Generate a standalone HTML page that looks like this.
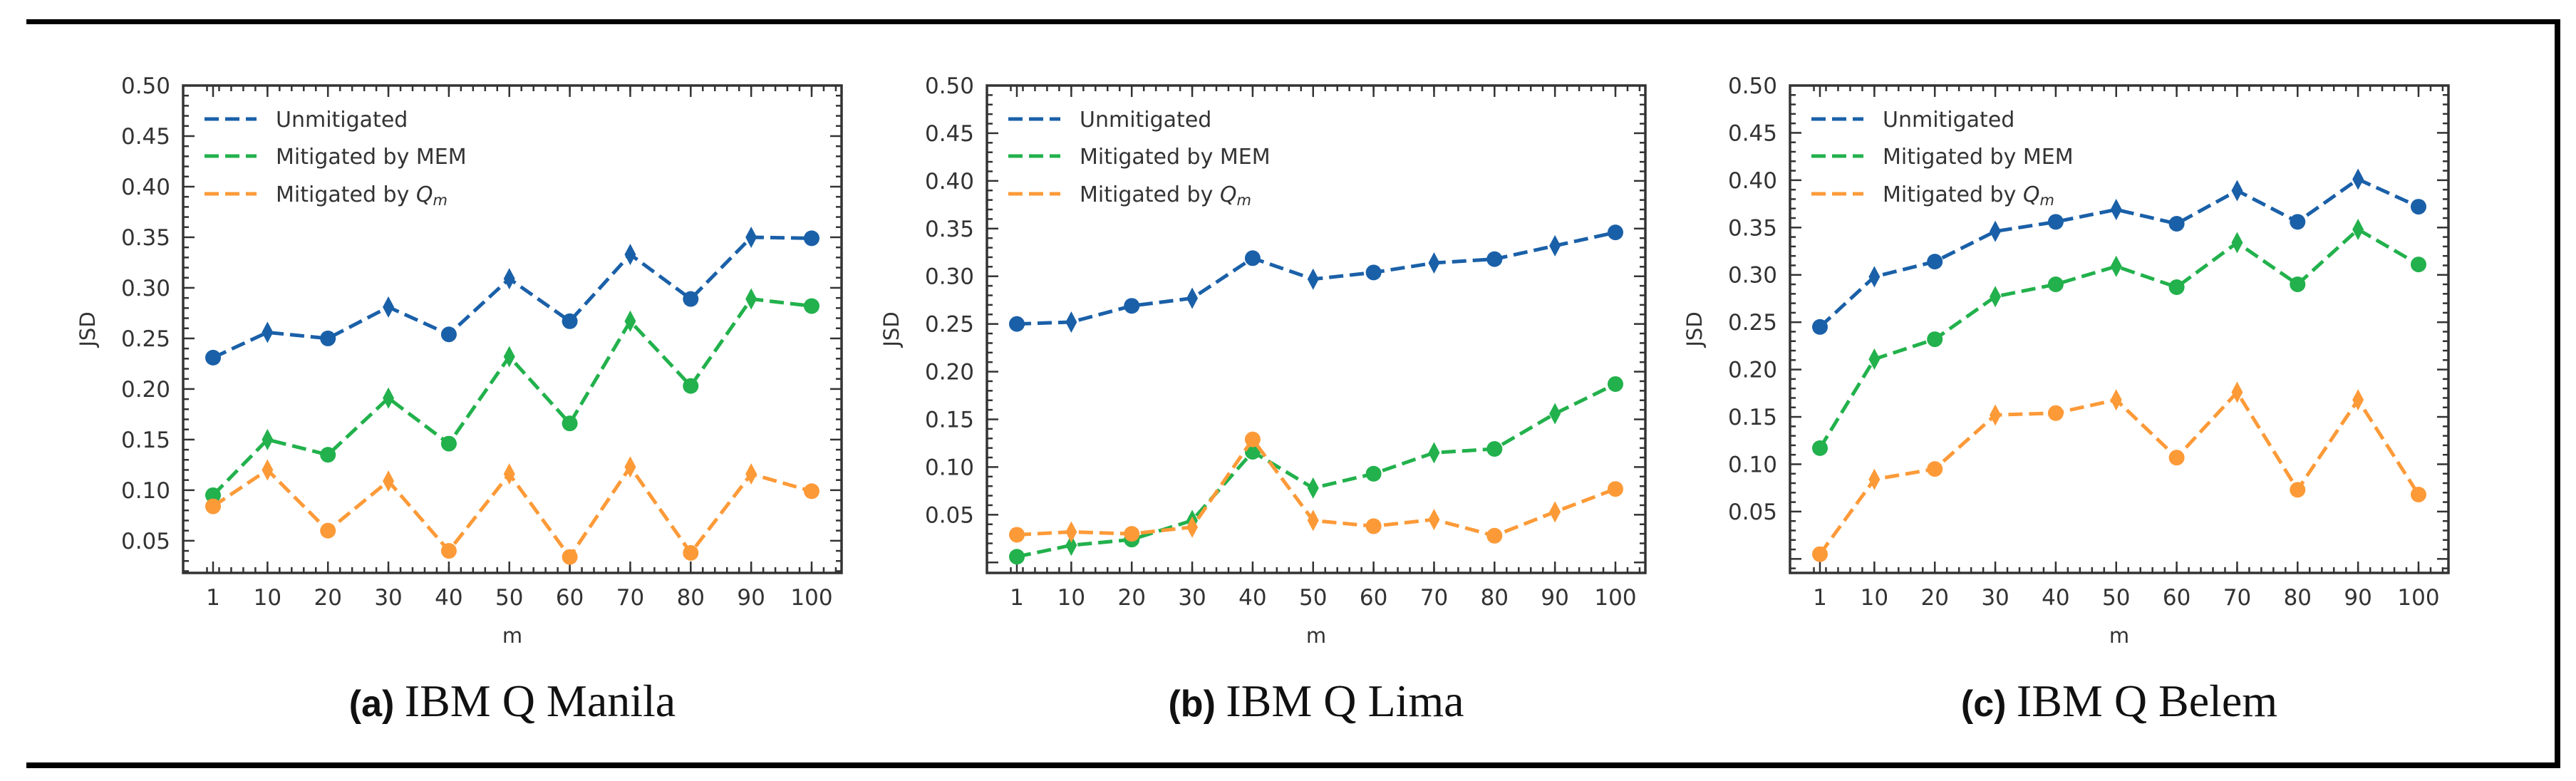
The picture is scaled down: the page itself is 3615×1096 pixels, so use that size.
<!DOCTYPE html>
<html><head><meta charset="utf-8">
<style>
html,body{margin:0;padding:0;background:#fff;}
#wrap{position:relative;width:3615px;height:1096px;overflow:hidden;background:#fff;}
svg text{font-family:"DejaVu Sans","Liberation Sans",sans-serif;}
</style></head>
<body>
<div id="wrap">
<svg id="svg" width="3615" height="1096" viewBox="0 0 3615 1096" xmlns="http://www.w3.org/2000/svg">
  <rect x="37" y="27" width="3556" height="7" fill="#000"/>
  <rect x="3585" y="27" width="8" height="1051" fill="#000"/>
  <rect x="37" y="1070" width="3556" height="8" fill="#000"/>
</svg>
</div>
<script>
const mValues = [1,10,20,30,40,50,60,70,80,90,100];
const manilaUnmit = [0.231,0.256,0.250,0.281,0.254,0.309,0.267,0.333,0.289,0.350,0.349];
const manilaMEM   = [0.095,0.150,0.135,0.191,0.146,0.232,0.166,0.267,0.203,0.289,0.282];
const manilaQm    = [0.084,0.120,0.060,0.109,0.040,0.116,0.034,0.123,0.038,0.116,0.099];
const limaUnmit = [0.250,0.252,0.269,0.277,0.319,0.297,0.304,0.314,0.318,0.332,0.346];
const limaMEM   = [0.006,0.018,0.024,0.044,0.116,0.078,0.093,0.115,0.119,0.156,0.187];
const limaQm    = [0.029,0.032,0.030,0.037,0.129,0.044,0.038,0.045,0.028,0.053,0.077];
const belemUnmit = [0.245,0.298,0.314,0.346,0.356,0.369,0.354,0.389,0.356,0.401,0.372];
const belemMEM   = [0.117,0.211,0.232,0.277,0.290,0.309,0.287,0.334,0.290,0.348,0.311];
const belemQm    = [0.005,0.084,0.095,0.152,0.154,0.168,0.107,0.176,0.073,0.168,0.068];
const yTickLabels = ["0.05","0.10","0.15","0.20","0.25","0.30","0.35","0.40","0.45","0.50"];
const yTickValues = [0.05,0.10,0.15,0.20,0.25,0.30,0.35,0.40,0.45,0.50];
const seriesNames = ["Unmitigated","Mitigated by MEM","Mitigated by Qm"];
const panelLetters = ["(a)","(b)","(c)"];
const panelTitles = ["IBM Q Manila","IBM Q Lima","IBM Q Belem"];
const panelKeys = ["manila","lima","belem"];

const NS = "http://www.w3.org/2000/svg";
const svg = document.getElementById('svg');
const colors = ["#1a60a8","#22b14c","#fd9a38"];
const panelLefts = [257,1385,2512];
const PW = 924, PT = 120, PB = 804;

function mk(tag, attrs, parent){
  const e = document.createElementNS(NS, tag);
  for (const k in attrs) e.setAttribute(k, attrs[k]);
  (parent||svg).appendChild(e);
  return e;
}

const allData = [
  [manilaUnmit, manilaMEM, manilaQm],
  [limaUnmit, limaMEM, limaQm],
  [belemUnmit, belemMEM, belemQm]
];

allData.forEach((series, pi) => {
  const L = panelLefts[pi], R = L + PW;
  const g = mk('g', {});
  
  
  // axis domains
  let mn = Infinity, mx = -Infinity;
  series.forEach(s => s.forEach(v => { mn = Math.min(mn, v); mx = Math.max(mx, v); }));
  const yMin = mn - 0.05 * (mx - mn), yMax = 0.5;
  const xMin = 1 - 0.05 * 99, xMax = 100 + 0.05 * 99;
  const xs = m => L + (m - xMin) / (xMax - xMin) * PW;
  const ys = v => PB - (v - yMin) / (yMax - yMin) * (PB - PT);

  // ticks
  const tg = mk('g', {stroke:'#333', 'stroke-width':2.5}, g);
  
  
  for (let m = 0; m <= 104; m += 2) {
    const x = xs(m);
    if (x < L + 2 || x > R - 2) continue;
    mk('line', {x1:x, y1:PB, x2:x, y2:PB-8}, tg);
    mk('line', {x1:x, y1:PT, x2:x, y2:PT+8}, tg);
  }
  mValues.forEach(m => {
    const x = xs(m);
    mk('line', {x1:x, y1:PB, x2:x, y2:PB-16}, tg);
    mk('line', {x1:x, y1:PT, x2:x, y2:PT+16}, tg);
  });
  for (let k = Math.ceil(yMin*100); k <= 50; k++) {
    const y = ys(k/100);
    if (y > PB - 2) continue;
    const major = k % 5 === 0;
    const len = major ? 16 : 8;
    mk('line', {x1:L, y1:y, x2:L+len, y2:y}, tg);
    mk('line', {x1:R, y1:y, x2:R-len, y2:y}, tg);
  }
  // frame
  const fr = mk('rect', {x:L, y:PT, width:PW, height:PB-PT, fill:'none', stroke:'#333', 'stroke-width':3.5}, g);
  
  

  // tick labels
  yTickValues.forEach((v, i) => {
    const t = mk('text', {x:L-18, y:ys(v)+11, 'text-anchor':'end', 'font-size':31, fill:'#333'}, g);
    t.textContent = yTickLabels[i];
    
    
  });
  mValues.forEach(m => {
    const t = mk('text', {x:xs(m), y:849, 'text-anchor':'middle', 'font-size':31, fill:'#333'}, g);
    t.textContent = String(m);
    
    
  });
  const yl = mk('text', {x:0, y:0, 'text-anchor':'middle', 'font-size':29, fill:'#333',
    transform:'translate(' + (L-124) + ',' + ((PT+PB)/2) + ') rotate(-90)'}, g);
  yl.textContent = 'JSD';
  
  
  const xl = mk('text', {x:L+PW/2, y:902, 'text-anchor':'middle', 'font-size':29, fill:'#333'}, g);
  xl.textContent = 'm';
  
  

  // series
  series.forEach((vals, si) => {
    const sg = mk('g', {}, g);
    
    
    const pts = vals.map((v, i) => xs(mValues[i]) + ',' + ys(v)).join(' ');
    const pl = mk('polyline', {points:pts, fill:'none', stroke:colors[si], 'stroke-width':5, 'stroke-dasharray':'20 9'}, sg);
    
    
    vals.forEach((v, i) => {
      const x = xs(mValues[i]), y = ys(v);
      let mkEl;
      if (i % 2 === 0) {
        mkEl = mk('circle', {cx:x, cy:y, r:11, fill:colors[si]}, sg);
      } else {
        mkEl = mk('polygon', {points:(x)+','+(y-15)+' '+(x+8)+','+y+' '+x+','+(y+15)+' '+(x-8)+','+y, fill:colors[si]}, sg);
      }
      
      
    });
  });

  // legend
  const lg = mk('g', {}, g);
  
  
  const legYs = [167, 219, 272];
  seriesNames.forEach((name, si) => {
    const y = legYs[si];
    const ln = mk('line', {x1:L+30, y1:y, x2:L+103, y2:y, stroke:colors[si], 'stroke-width':5, 'stroke-dasharray':'20 9'}, lg);
    
    
    const t = mk('text', {x:L+130, y:y+11, 'font-size':30, fill:'#333'}, lg);
    if (si === 2) {
      t.textContent = 'Mitigated by ';
      const ts = mk('tspan', {'font-style':'italic'}, t);
      ts.textContent = 'Q';
      const ts2 = mk('tspan', {'font-style':'italic', 'font-size':21, dy:5}, t);
      ts2.textContent = 'm';
    } else {
      t.textContent = name;
    }
    
    
  });

  // caption
  const cap = mk('text', {x:L+PW/2, y:1005, 'text-anchor':'middle', fill:'#111'}, g);
  
  
  const c1 = mk('tspan', {'font-family':'Liberation Sans, sans-serif', 'font-weight':'bold', 'font-size':52}, cap);
  c1.textContent = panelLetters[pi] + ' ';
  const c2 = mk('tspan', {'font-family':'Liberation Serif, serif', 'font-size':64}, cap);
  c2.textContent = panelTitles[pi];
});
</script>
</body></html>
